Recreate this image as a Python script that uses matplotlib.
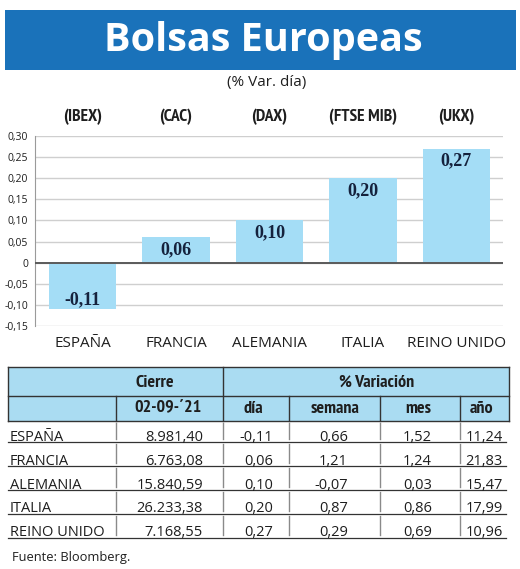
import matplotlib
matplotlib.use("Agg")
import matplotlib.pyplot as plt

# ---------------------------------------------------------------------------
# Data
# ---------------------------------------------------------------------------
paises = ["ESPAÑA", "FRANCIA", "ALEMANIA", "ITALIA", "REINO UNIDO"]
indices = ["(IBEX)", "(CAC)", "(DAX)", "(FTSE MIB)", "(UKX)"]
var_dia = [-0.11, 0.06, 0.10, 0.20, 0.27]
yticks = [-0.15, -0.10, -0.05, 0.0, 0.05, 0.10, 0.15, 0.20, 0.25, 0.30]

cierre = ["8.981,40", "6.763,08", "15.840,59", "26.233,38", "7.168,55"]
dia = ["-0,11", "0,06", "0,10", "0,20", "0,27"]
semana = ["0,66", "1,21", "-0,07", "0,87", "0,29"]
mes = ["1,52", "1,24", "0,03", "0,86", "0,69"]
anio = ["11,24", "21,83", "15,47", "17,99", "10,96"]
fecha = "02-09-´21"

# ---------------------------------------------------------------------------
# Style
# ---------------------------------------------------------------------------
SANS = ["Open Sans", "DejaVu Sans"]
NARROW = ["PT Sans Narrow", "Liberation Sans Narrow", "Open Sans", "DejaVu Sans"]
SERIF = ["Liberation Serif", "DejaVu Serif"]
plt.rcParams["font.family"] = SANS

BLUE = "#1a72ba"
BAR = "#a4ddf6"
HEAD = "#aadcf2"
INK = "#1e1e1e"
NAVY = "#15223d"

W, H = 520, 569
fig = plt.figure(figsize=(W / 100, H / 100), dpi=100)

ov = fig.add_axes([0, 0, 1, 1])
ov.set_xlim(0, W)
ov.set_ylim(H, 0)
ov.axis("off")

# ---- title band ----
ov.add_patch(plt.Rectangle((5, 10), 511, 60, color=BLUE, lw=0))
ov.text(263, 40, "Bolsas Europeas", color="white", fontsize=28.5, fontweight="bold",
        ha="center", va="center")
ov.text(267, 82, "(% Var. día)", fontsize=11, ha="center", va="center", color=INK)

# ---- bar chart ----
def fx(px):
    return px / W

def fy(py):
    return 1 - py / H

ax = fig.add_axes([fx(35), fy(326), fx(503) - fx(35), fy(136) - fy(326)])
xs = list(range(len(paises)))
ax.bar(xs, var_dia, width=0.72, color=BAR, zorder=2)
ax.set_xlim(-0.51, 4.5)
ax.set_ylim(-0.15, 0.30)
ax.set_yticks(yticks)
ax.set_yticklabels(["0" if v == 0 else f"{v:.2f}".replace(".", ",") for v in yticks],
                   fontsize=7.5, color=INK)
ax.tick_params(axis="y", length=0, pad=5)
ax.set_xticks(xs)
ax.set_xticklabels(paises, fontsize=11, color=INK)
ax.tick_params(axis="x", length=0, pad=7)
ax.grid(axis="y", color="#cfcfcf", lw=1.0, zorder=0)
ax.axhline(0, color="#5a5a5a", lw=1.4, zorder=3)
for s in ("top", "right", "bottom"):
    ax.spines[s].set_visible(False)
ax.spines["left"].set_color("#9a9a9a")
for x, v in zip(xs, var_dia):
    off = -9 if v > 0 else 7
    ax.annotate(f"{v:.2f}".replace(".", ","), (x, v), textcoords="offset points",
                xytext=(0, off), ha="center", va="center", fontsize=13,
                fontweight="bold", color=NAVY, family=SERIF, zorder=4)

for x, lab in zip(xs, indices):
    px = 82.5 + 93.5 * x
    ov.text(px, 117, lab, fontsize=12.5, fontweight="bold", ha="center", va="center",
            color=INK, family=NARROW)

# ---- table ----
L, R = 8, 509
top, mid, hbot = 367, 396, 421
row_lines = [442, 466, 490, 514, 538]
ov.add_patch(plt.Rectangle((L, top), R - L, hbot - top, color=HEAD, lw=0))
for y in (top, mid, hbot):
    ov.plot([L, R], [y, y], color="#333333", lw=1.0)
ov.plot([L, L], [top, hbot], color="#333333", lw=1.0)
ov.plot([R, R], [top, hbot], color="#333333", lw=1.0)
ov.plot([223, 223], [top, hbot], color="#333333", lw=1.0)
for x in (116, 289, 380, 460):
    ov.plot([x, x], [mid, hbot], color="#333333", lw=1.0)

ov.text(155, 382.5, "Cierre", fontsize=13, fontweight="bold", ha="center", va="center",
        color=INK, family=NARROW)
ov.text(377, 382.5, "% Variación", fontsize=13, fontweight="bold", ha="center", va="center",
        color=INK, family=NARROW)
for x, lab in zip((168, 253, 335, 418, 482), (fecha, "día", "semana", "mes", "año")):
    ov.text(x, 408.5, lab, fontsize=13, fontweight="bold", ha="center", va="center",
            color=INK, family=NARROW)

prev = hbot
for i, y in enumerate(row_lines):
    ov.plot([L, R - 3], [y, y], color="#333333", lw=0.9)
    for x in (116, 223, 289, 380, 460):
        ov.plot([x, x], [prev + 2, y - 3], color="#8a8a8a", lw=1.0)
    base = y - 1.5
    ov.text(10, base, paises[i], fontsize=10.5, ha="left", va="baseline", color=INK)
    ov.text(203, base, cierre[i], fontsize=10.5, ha="right", va="baseline", color=INK)
    ov.text(273, base, dia[i], fontsize=10.5, ha="right", va="baseline", color=INK)
    ov.text(348, base, semana[i], fontsize=10.5, ha="right", va="baseline", color=INK)
    ov.text(432, base, mes[i], fontsize=10.5, ha="right", va="baseline", color=INK)
    ov.text(503, base, anio[i], fontsize=10.5, ha="right", va="baseline", color=INK)
    prev = y

ov.text(12, 557, "Fuente: Bloomberg.", fontsize=9.3, ha="left", va="center", color=INK)

fig.savefig("out.png", dpi=100)
